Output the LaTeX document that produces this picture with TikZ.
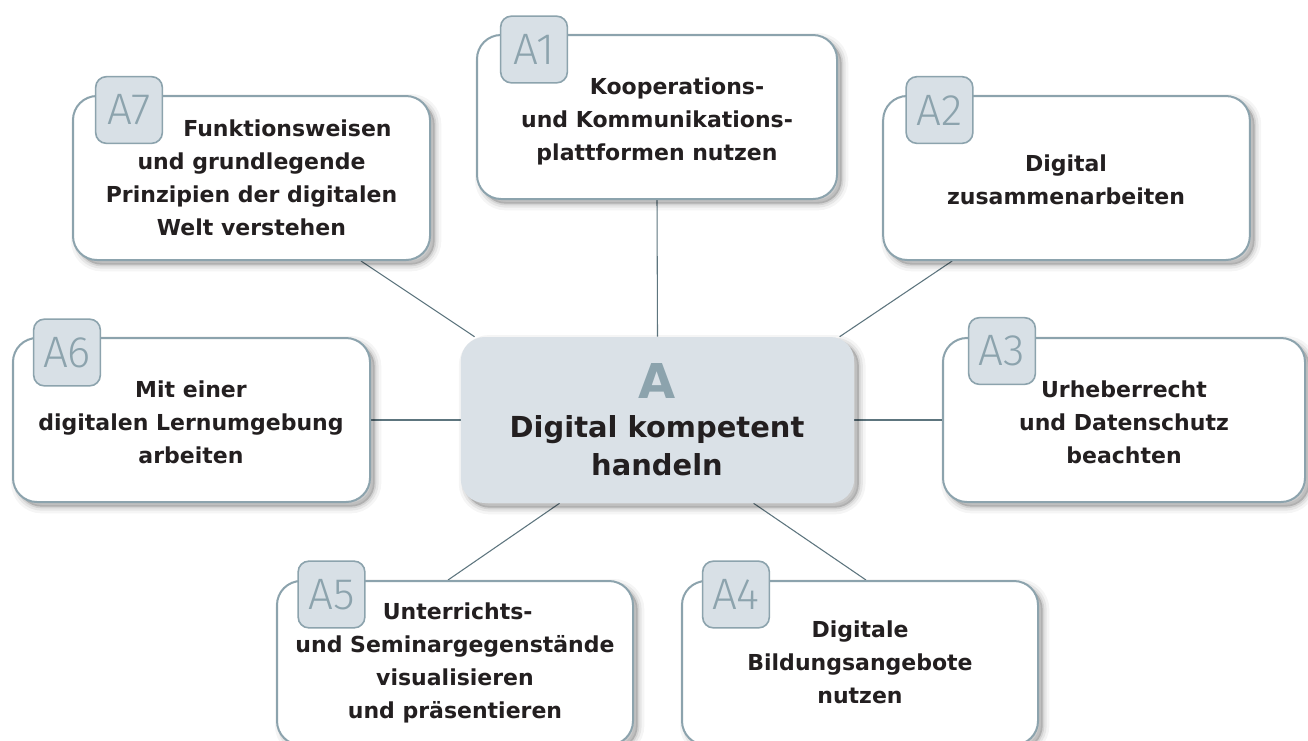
\documentclass[tikz,border=0pt]{standalone}
\usepackage{fontspec}
\setmainfont{DejaVu Sans}
\newfontfamily\lightfont{Fira Sans Light}
\usetikzlibrary{shadows,calc}
\definecolor{bordercol}{HTML}{8CA3AD}
\definecolor{tabfill}{HTML}{D8E0E6}
\definecolor{centerfill}{HTML}{DAE1E7}
\definecolor{linecol}{HTML}{5D757E}
\definecolor{textcol}{HTML}{231F20}
\pgfdeclarelayer{bg}
\pgfsetlayers{bg,main}
\begin{document}
\begin{tikzpicture}[x=0.75pt,y=-0.75pt,
  softshadow/.style={
    general shadow={draw=black, line width=10pt, fill=black, opacity=0.04, shadow xshift=3.5pt, shadow yshift=-3.5pt},
    general shadow={draw=black, line width=6pt, fill=black, opacity=0.06, shadow xshift=3.5pt, shadow yshift=-3.5pt},
    general shadow={draw=black, line width=2.5pt, fill=black, opacity=0.08, shadow xshift=3.5pt, shadow yshift=-3.5pt}},
  box/.style={draw=bordercol, line width=1.5pt, fill=white, rounded corners=18pt,
    inner sep=0pt, minimum height=123pt, softshadow},
  centerbox/.style={fill=centerfill, rounded corners=18pt, inner sep=0pt,
    minimum width=295pt, minimum height=124.5pt, softshadow},
  tab/.style={draw=bordercol, line width=1.2pt, fill=tabfill, rounded corners=8pt,
    minimum width=50pt, minimum height=50pt, inner sep=0pt,
    font=\lightfont\fontsize{33}{33}\selectfont, text=bordercol},
  txt/.style={align=center, font=\bfseries\fontsize{16.5}{24.6}\selectfont, text=textcol,
    anchor=base, inner sep=0pt},
  conn/.style={draw=linecol, line width=0.8pt}
]
\useasboundingbox (0,0) rectangle (1308,740);
\clip (0,0) rectangle (1308,740);
\begin{pgfonlayer}{bg}
\fill[white] (0,0) rectangle (1308,740);
\end{pgfonlayer}

% boxes
\node[box, minimum width=270pt] (A1) at (657,117) {};
\node[box, minimum width=275pt] (A2) at (1066.5,178) {};
\node[box, minimum width=271.5pt] (A3) at (1124,420) {};
\node[box, minimum width=267pt] (A4) at (860,663) {};
\node[box, minimum width=267pt] (A5) at (455,663) {};
\node[box, minimum width=267.75pt] (A6) at (191.5,420) {};
\node[box, minimum width=267.75pt] (A7) at (251.5,178) {};
\node[centerbox] (C) at (657.5,420) {};

% tabs
\node[tab] (T1) at (534,49.5) {A1};
\node[tab] (T2) at (939.5,110) {A2};
\node[tab] (T3) at (1002,351) {A3};
\node[tab] (T4) at (736,594.5) {A4};
\node[tab] (T5) at (331.5,594.5) {A5};
\node[tab] (T6) at (67,352.5) {A6};
\node[tab] (T7) at (129,110) {A7};

% texts (anchor = baseline of the last line)
\node[txt] (X1) at (657,160) {\hspace*{30pt}Kooperations-\\und Kommunikations-\\plattformen nutzen};
\node[txt] (X2) at (1066,204) {Digital\\zusammenarbeiten};
\node[txt] (X3) at (1124,463) {Urheberrecht\\und Datenschutz\\beachten};
\node[txt] (X4) at (860,703) {Digitale\\Bildungsangebote\\nutzen};
\node[txt] (X5) at (455,718) {\hspace*{4pt}Unterrichts-\\und Seminargegenstände\\visualisieren\\und präsentieren};
\node[txt] (X6) at (191,463) {Mit einer\\digitalen Lernumgebung\\arbeiten};
\node[txt] (X7) at (251.5,235) {\hspace*{54pt}Funktionsweisen\\und grundlegende\\Prinzipien der digitalen\\Welt verstehen};
\node[anchor=base, inner sep=0pt, text=bordercol, font=\bfseries\fontsize{36}{36}\selectfont] (CA) at (657,398) {A};
\node[txt, font=\bfseries\fontsize{21.7}{28.5}\selectfont] (CT) at (657,475) {Digital kompetent\\handeln};

% connectors
\begin{pgfonlayer}{bg}
\draw[conn] (A1.south) -- (C.north);
\draw[conn] ($(A2.south west)+(70,0)$) -- ($(C.north west)+(379,0)$);
\draw[conn] ($(A7.south west)+(289,0)$) -- ($(C.north west)+(14,0)$);
\draw[conn] (A6.east) -- (C.west);
\draw[conn] (C.east) -- (A3.west);
\draw[conn] ($(A5.north west)+(172,0)$) -- ($(C.south west)+(99,0)$);
\draw[conn] ($(C.south west)+(293,0)$) -- ($(A4.north west)+(185,0)$);
\end{pgfonlayer}
\end{tikzpicture}
\end{document}
